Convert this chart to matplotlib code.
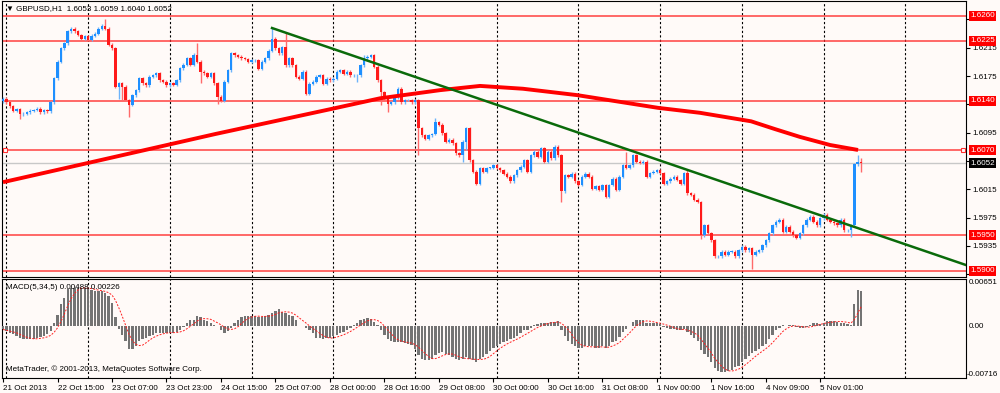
import numpy as np
import pandas as pd
import matplotlib
matplotlib.use('Agg')
import matplotlib.pyplot as plt
from matplotlib.transforms import blended_transform_factory

plt.rcParams['font.family'] = ['Liberation Sans', 'DejaVu Sans']

# ---- data (prices as pips above 1.6000) ----
first_open = 139
close_pips = [
    143, 138, 132, 126, 128, 121, 122, 124, 126, 127,
    129, 124, 127, 125, 138, 172, 195, 214, 221, 238,
    242, 238, 233, 228, 231, 226, 232, 235, 242, 246,
    242, 219, 214, 160, 165, 160, 141, 134, 148, 155,
    172, 165, 162, 174, 176, 179, 169, 167, 162, 165,
    163, 169, 186, 191, 200, 191, 205, 195, 181, 179,
    174, 179, 165, 146, 140, 167, 183, 207, 204, 202,
    200, 199, 195, 197, 197, 185, 195, 200, 211, 228,
    214, 207, 216, 190, 200, 190, 174, 171, 181, 150,
    164, 167, 174, 176, 164, 171, 169, 171, 181, 183,
    178, 181, 176, 176, 176, 190, 200, 202, 204, 188,
    169, 152, 145, 136, 138, 145, 157, 138, 141, 141,
    138, 141, 101, 91, 86, 91, 93, 110, 106, 94,
    82, 85, 80, 66, 63, 82, 101, 56, 40, 23,
    45, 40, 45, 45, 49, 45, 42, 37, 33, 26,
    35, 42, 47, 56, 40, 63, 68, 61, 73, 54,
    68, 59, 75, 63, 12, 35, 33, 37, 26, 21,
    33, 37, 33, 16, 19, 14, 21, 4, 21, 30,
    14, 33, 49, 45, 49, 63, 54, 52, 54, 33,
    38, 40, 42, 38, 23, 26, 30, 33, 28, 23,
    38, 9, 7, 0, -3, -50, -36, -47, -57, -80,
    -80, -73, -78, -73, -73, -80, -71, -66, -71, -68,
    -78, -73, -71, -64, -57, -47, -36, -31, -28, -45,
    -38, -45, -50, -54, -47, -36, -28, -24, -31, -36,
    -26, -21, -28, -31, -33, -36, -28, -43, -43, -36,
    50, 53, 52,
]
small_wick = 2
# notable wicks: bar -> extra pips beyond the body
wick_up = {30: 9, 57: 16, 79: 15, 83: 21, 106: 4, 127: 5, 183: 19, 201: 4, 251: 10, 252: 6}
wick_dn = {5: 7, 34: 17, 35: 19, 37: 17, 58: 16, 63: 10, 104: 9, 111: 18, 113: 12,
           122: 38, 135: 9, 136: 12, 164: 15, 205: 5, 220: 19, 249: 9, 252: 12}

# moving average (read points)
ma_bar = [0, 28.5, 62.3, 96.0, 110.7, 128.3, 140.1, 152.7, 168.6, 192.4, 204.7, 219.7, 226.7, 234.0, 242.9, 251.1]
ma_pips = [25, 56, 93, 128, 143.5, 155, 161, 157, 148, 130, 123, 111, 100, 89, 77.5, 70.5]

# trend line anchors (bar, pips)
trend_bar = [79, 250]
trend_pips = [242.8, -38.2]

levels = [1.6260, 1.6225, 1.6140, 1.6070, 1.5950, 1.5900]
bid = 1.6052
price_ticks = [1.6255, 1.6215, 1.6175, 1.6135, 1.6095, 1.6055, 1.6015, 1.5975, 1.5935, 1.5895]
hidden_ticks = [1.6255, 1.6135, 1.6055, 1.5895]  # covered by the level boxes
time_labels = ['21 Oct 2013', '22 Oct 15:00', '23 Oct 07:00', '23 Oct 23:00', '24 Oct 15:00',
               '25 Oct 07:00', '28 Oct 00:00', '28 Oct 16:00', '29 Oct 08:00', '30 Oct 00:00',
               '30 Oct 16:00', '31 Oct 08:00', '1 Nov 00:00', '1 Nov 16:00', '4 Nov 09:00', '5 Nov 01:00']

macd_hist = [
    -0.00046, -0.0007, -0.0009, -0.00115, -0.0014, -0.0016, -0.00175, -0.0018, -0.0018, -0.00175,
    -0.0016, -0.0015, -0.0014, -0.00115, -0.0007, 0.00046, 0.0016, 0.0030, 0.0039, 0.0051,
    0.0053, 0.0053, 0.0053, 0.0053, 0.0052, 0.0051, 0.0050, 0.0048, 0.0048, 0.0048,
    0.0046, 0.0041, 0.0032, 0.0012, -0.0004, -0.0012, -0.0021, -0.0032, -0.0032, -0.0028,
    -0.0021, -0.0018, -0.0016, -0.0014, -0.0012, -0.0009, -0.0009, -0.0009, -0.0009, -0.0009,
    -0.0009, -0.0008, -0.0005, -0.0001, 0.0005, 0.0008, 0.0009, 0.0014, 0.0012, 0.0009,
    0.0007, 0.0005, 0.0002, 0.0000, -0.0005, -0.0009, -0.0007, -0.0002, 0.0005, 0.0009,
    0.0012, 0.0014, 0.0014, 0.0014, 0.0014, 0.0013, 0.0012, 0.0014, 0.0016, 0.0018,
    0.0021, 0.0023, 0.0019, 0.0018, 0.0016, 0.0014, 0.0009, 0.0000, 0.0000, -0.0002,
    -0.0005, -0.0009, -0.0016, -0.0017, -0.0018, -0.0016, -0.0016, -0.0014, -0.0012, -0.0010,
    -0.0008, -0.0005, -0.0002, 0.0002, 0.0005, 0.0008, 0.0010, 0.0011, 0.0010, 0.0006,
    0.0002, -0.0005, -0.0012, -0.0018, -0.0020, -0.0022, -0.0022, -0.0022, -0.0023, -0.0024,
    -0.0026, -0.0032, -0.0040, -0.0045, -0.0047, -0.0047, -0.0045, -0.0040, -0.0037, -0.0036,
    -0.0038, -0.0040, -0.0042, -0.0045, -0.0047, -0.0046, -0.0043, -0.0045, -0.0047, -0.0049,
    -0.0046, -0.0042, -0.0038, -0.0034, -0.0030, -0.0027, -0.0024, -0.0022, -0.0020, -0.0018,
    -0.0016, -0.0013, -0.0010, -0.0006, -0.0005, -0.0002, 0.0001, 0.0003, 0.0004, 0.0005,
    0.0005, 0.0006, 0.0006, 0.0007, -0.0005, -0.0014, -0.0020, -0.0024, -0.0027, -0.0030,
    -0.0030, -0.0028, -0.0027, -0.0028, -0.0030, -0.0030, -0.0028, -0.0030, -0.0027, -0.0022,
    -0.0020, -0.0015, -0.0008, -0.0004, 0.0000, 0.0006, 0.0008, 0.0009, 0.0008, 0.0005,
    0.0004, 0.0004, 0.0004, 0.0003, -0.0001, -0.0003, -0.0004, -0.0004, -0.0005, -0.0006,
    -0.0004, -0.0008, -0.0012, -0.0017, -0.0021, -0.0033, -0.0038, -0.0043, -0.0050, -0.0058,
    -0.0062, -0.0063, -0.0063, -0.0062, -0.0060, -0.0057, -0.0055, -0.0050, -0.0045, -0.0041,
    -0.0037, -0.0035, -0.0032, -0.0028, -0.0024, -0.0018, -0.0012, -0.0006, -0.0002, 0.0001,
    0.0000, 0.0001, 0.0001, -0.0001, -0.0003, -0.0003, -0.0001, 0.0002, 0.0004, 0.0004,
    0.0003, 0.0005, 0.0007, 0.0007, 0.0007, 0.0006, 0.0005, 0.0005, 0.0003, 0.0002,
    0.0030, 0.0050, 0.00488,
]

# ---- build candles ----
n = len(close_pips)
x = np.arange(n)
c = 1.6 + np.array(close_pips) / 1e4
o = np.r_[1.6 + first_open / 1e4, c[:-1]]
up = np.full(n, small_wick, dtype=float)
dn = np.full(n, small_wick, dtype=float)
for k, v in wick_up.items():
    up[k] = v
for k, v in wick_dn.items():
    dn[k] = v
hi = np.maximum(o, c) + up / 1e4
lo = np.minimum(o, c) - dn / 1e4
bull = c >= o

BG = '#FFFAF8'
W, H = 1000, 393


def box(x0, y0, x1, y1):
    return [x0 / W, 1 - y1 / H, (x1 - x0) / W, (y1 - y0) / H]


fig = plt.figure(figsize=(10, 3.93), dpi=100)
fig.patch.set_facecolor(BG)
ax = fig.add_axes(box(2, 1, 966, 277))
ax2 = fig.add_axes(box(2, 279, 966, 378))

xmin, xmax = -0.3, 282.8
for a in (ax, ax2):
    a.set_facecolor(BG)
    a.set_xlim(xmin, xmax)
    for s in a.spines.values():
        s.set_linewidth(0.8)
        s.set_color('black')
    # day grid
    for g in range(1, int(xmax), 24):
        a.axvline(g, color='black', lw=0.8, ls=(0, (2, 2)), zorder=1)

ax.set_ylim(1.58910, 1.62810)
ax2.set_ylim(-0.00716, 0.00651)

# levels
for lv in levels:
    ax.axhline(lv, color='#FF3030', lw=1.2, alpha=0.85, zorder=2)
ax.axhline(bid, color='#C8C8C8', lw=1.0, zorder=2)
ax.plot([xmin + 0.9, xmax - 0.9], [1.6070, 1.6070], ls='none', marker='s', ms=3,
        mfc='white', mec='#FF3030', mew=0.8, zorder=6, clip_on=False)

# candles
body = c - o
body = np.where(np.abs(body) < 0.00008, np.where(bull, 0.00008, -0.00008), body)
col = np.where(bull, '#1E8FFF', '#FF1A1A')
wcol = np.where(bull, '#6DB3FA', '#FF6A6A')
ax.vlines(x, lo, hi, colors=wcol, lw=1.0, zorder=3)
ax.bar(x, body, bottom=o, width=0.72, color=col, lw=0, zorder=3)

# moving average
ax.plot(ma_bar, 1.6 + np.array(ma_pips) / 1e4, color='#FF0000', lw=2.8, zorder=4,
        solid_capstyle='butt', solid_joinstyle='round')

# trend line (ray to the right)
slope = (trend_pips[1] - trend_pips[0]) / (trend_bar[1] - trend_bar[0])
tx = [trend_bar[0], xmax]
ty = [trend_pips[0], trend_pips[0] + slope * (xmax - trend_bar[0])]
ax.plot(tx, 1.6 + np.array(ty) / 1e4, color='#0A6A0A', lw=1.8, zorder=5)

# price axis
ax.yaxis.tick_right()
ax.set_yticks(price_ticks)
ax.set_yticklabels(['' if t in hidden_ticks else '%.4f' % t for t in price_ticks])
ax.tick_params(axis='y', direction='out', length=3, width=0.8, pad=1.5, labelsize=5.8)
ax.set_xticks([])

for lv in levels:
    ax.annotate('%.4f' % lv, xy=(1, lv), xycoords=('axes fraction', 'data'),
                xytext=(4, 0), textcoords='offset pixels', ha='left', va='center',
                fontsize=5.8, color='white', zorder=10, annotation_clip=False,
                bbox=dict(boxstyle='square,pad=0.18', fc='#FF0000', ec='none'))
ax.annotate('%.4f' % bid, xy=(1, bid), xycoords=('axes fraction', 'data'),
            xytext=(4, 0), textcoords='offset pixels', ha='left', va='center',
            fontsize=5.8, color='white', zorder=10, annotation_clip=False,
            bbox=dict(boxstyle='square,pad=0.18', fc='black', ec='none'))

ax.text(0.004, 0.985, '\u25BC GBPUSD,H1  1.6053 1.6059 1.6040 1.6052', transform=ax.transAxes,
        ha='left', va='top', fontsize=5.8, zorder=10)

# MACD panel
signal = pd.Series(macd_hist).rolling(5, min_periods=1).mean()
ax2.bar(x, macd_hist, width=0.68, color='#747474', lw=0, zorder=3)
ax2.plot(x, signal, color='#FF2020', lw=0.7, ls=(0, (2, 1.5)), zorder=4)
ax2.set_yticks([])
ax2.set_xticks(np.arange(0, 16 * len(time_labels), 16))
ax2.set_xticklabels(time_labels, ha='left')
ax2.tick_params(axis='x', direction='out', length=3, width=0.8, pad=2, labelsize=5.8)

tr = blended_transform_factory(ax2.transAxes, ax2.transData)
ax2.text(1.003, 0.00651, '0.00651', transform=tr, ha='left', va='top', fontsize=5.8)
ax2.text(1.003, 0.0, '0.00', transform=tr, ha='left', va='center', fontsize=5.8)
ax2.text(1.001, -0.00716, '-0.00716', transform=tr, ha='left', va='bottom', fontsize=5.8)

ax2.text(0.004, 0.95, 'MACD(5,34,5) 0.00488 0.00226', transform=ax2.transAxes,
         ha='left', va='top', fontsize=5.8, zorder=10)
ax2.text(0.004, 0.05, 'MetaTrader, \u00A9 2001-2013, MetaQuotes Software Corp.', transform=ax2.transAxes,
         ha='left', va='bottom', fontsize=5.8, zorder=10)

fig.savefig('out.png', dpi=100, facecolor=BG)
